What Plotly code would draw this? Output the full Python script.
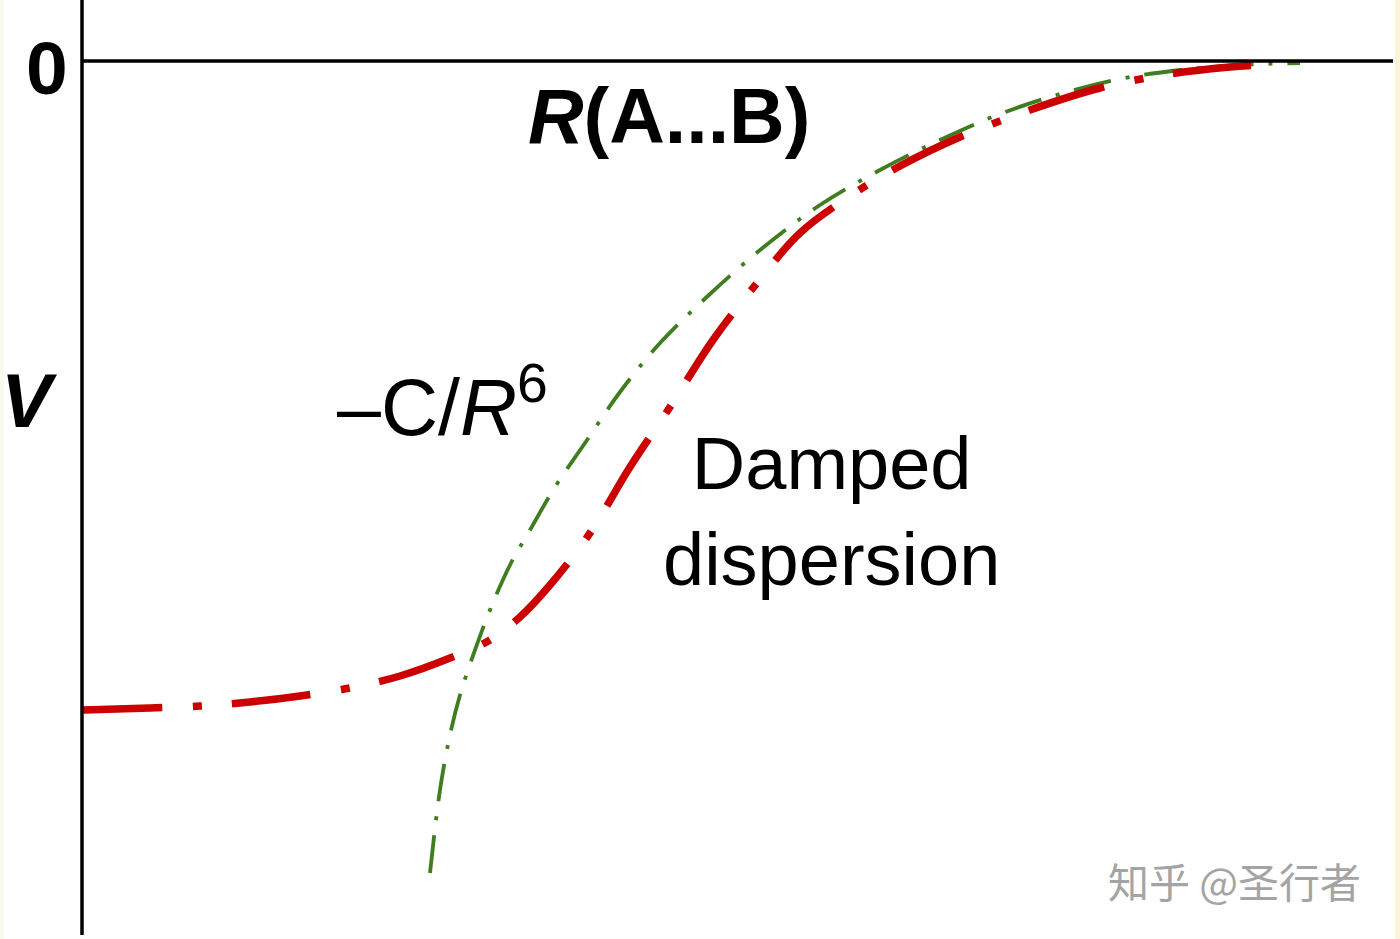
import plotly.graph_objects as go

# Values read from the schematic (arbitrary units: R along x, V along y, V=0 at the top axis)
green_R = [3.48, 3.58, 3.68, 3.78, 3.93, 4.08, 4.28, 4.48, 4.73, 5.03, 5.38, 5.78,
           6.28, 6.83, 7.38, 7.98, 8.58, 9.18, 9.78, 10.38, 10.98, 11.58, 12.18]
green_V = [-8.12, -7.29, -6.74, -6.34, -5.89, -5.49, -5.04, -4.69, -4.26, -3.82, -3.31, -2.82,
           -2.33, -1.85, -1.44, -1.09, -0.79, -0.53, -0.33, -0.18, -0.09, -0.04, -0.02]

red_R = [0.01, 0.68, 1.18, 1.68, 2.18, 2.68, 3.18, 3.68, 4.08, 4.38, 4.68, 5.08, 5.48,
         5.88, 6.31, 6.75, 7.18, 7.68, 8.18, 8.78, 9.48, 10.18, 10.88, 11.48, 11.80]
red_V = [-6.49, -6.47, -6.45, -6.41, -6.35, -6.27, -6.15, -5.97, -5.79, -5.56, -5.24, -4.72, -4.06,
         -3.46, -2.79, -2.22, -1.72, -1.35, -1.05, -0.76, -0.49, -0.27, -0.13, -0.06, -0.04]

x_range = [-0.82, 13.18]
y_range = [-8.78, 0.61]

FONT = "Liberation Sans, Arial, Helvetica, sans-serif"

fig = go.Figure()

fig.add_trace(go.Scatter(
    x=green_R, y=green_V, mode="lines", line_shape="spline",
    line=dict(color="#3f7d1f", width=3.8, dash="38px,15px,4px,15px"),
    hoverinfo="skip", showlegend=False))

fig.add_trace(go.Scatter(
    x=red_R, y=red_V, mode="lines", line_shape="spline",
    line=dict(color="#cc0000", width=7.5, dash="79px,31px,9px,30px"),
    hoverinfo="skip", showlegend=False))

shapes = [
    # V axis (vertical) and R axis (V = 0)
    dict(type="line", xref="x", yref="y", x0=0, x1=0, y0=-8.74, y1=0.61,
         line=dict(color="black", width=3.5), layer="above"),
    dict(type="line", xref="x", yref="y", x0=0, x1=13.11, y0=0, y1=0,
         line=dict(color="black", width=3.5), layer="above"),
    # cream page edges
    dict(type="rect", xref="paper", yref="paper", x0=0.9965, x1=1.0, y0=0, y1=1,
         fillcolor="#fdf3d8", line=dict(width=0), layer="below"),
    dict(type="rect", xref="paper", yref="paper", x0=0.0, x1=0.003, y0=0, y1=1,
         fillcolor="#fbf9ee", line=dict(width=0), layer="below"),
]

annotations = [
    dict(x=-0.35, y=-0.07, text="<b>0</b>", showarrow=False,
         font=dict(family=FONT, size=75, color="black"), xanchor="center", yanchor="middle"),
    dict(x=-0.53, y=-3.39, text="<b><i>V</i></b>", showarrow=False,
         font=dict(family=FONT, size=76, color="black"), xanchor="center", yanchor="middle"),
    dict(x=5.87, y=-0.55, text="<b><i>R</i>(A...B)</b>", showarrow=False,
         font=dict(family=FONT, size=77, color="black"), xanchor="center", yanchor="middle"),
    dict(x=2.53, y=-3.41, text="\u2013C/<i>R</i><sup>6</sup>", showarrow=False,
         font=dict(family=FONT, size=79, color="black"), xanchor="left", yanchor="middle"),
    dict(x=7.49, y=-4.50, text="Damped<br>dispersion", showarrow=False, align="center",
         font=dict(family=FONT, size=74, color="black"), xanchor="center", yanchor="middle"),
    dict(x=0.882, y=0.063, xref="paper", yref="paper", text="知乎 @圣行者", showarrow=False,
         font=dict(family="Noto Sans CJK SC", size=41, color="#a4a4a4"),
         xanchor="center", yanchor="middle"),
]

fig.update_layout(
    width=1400, height=939,
    margin=dict(l=0, r=0, t=0, b=0, pad=0),
    paper_bgcolor="white", plot_bgcolor="white",
    xaxis=dict(range=x_range, visible=False, fixedrange=True),
    yaxis=dict(range=y_range, visible=False, fixedrange=True),
    shapes=shapes, annotations=annotations,
)

fig.write_html("out.html", config={"displayModeBar": False},
               post_script="document.body.style.margin='0';")
